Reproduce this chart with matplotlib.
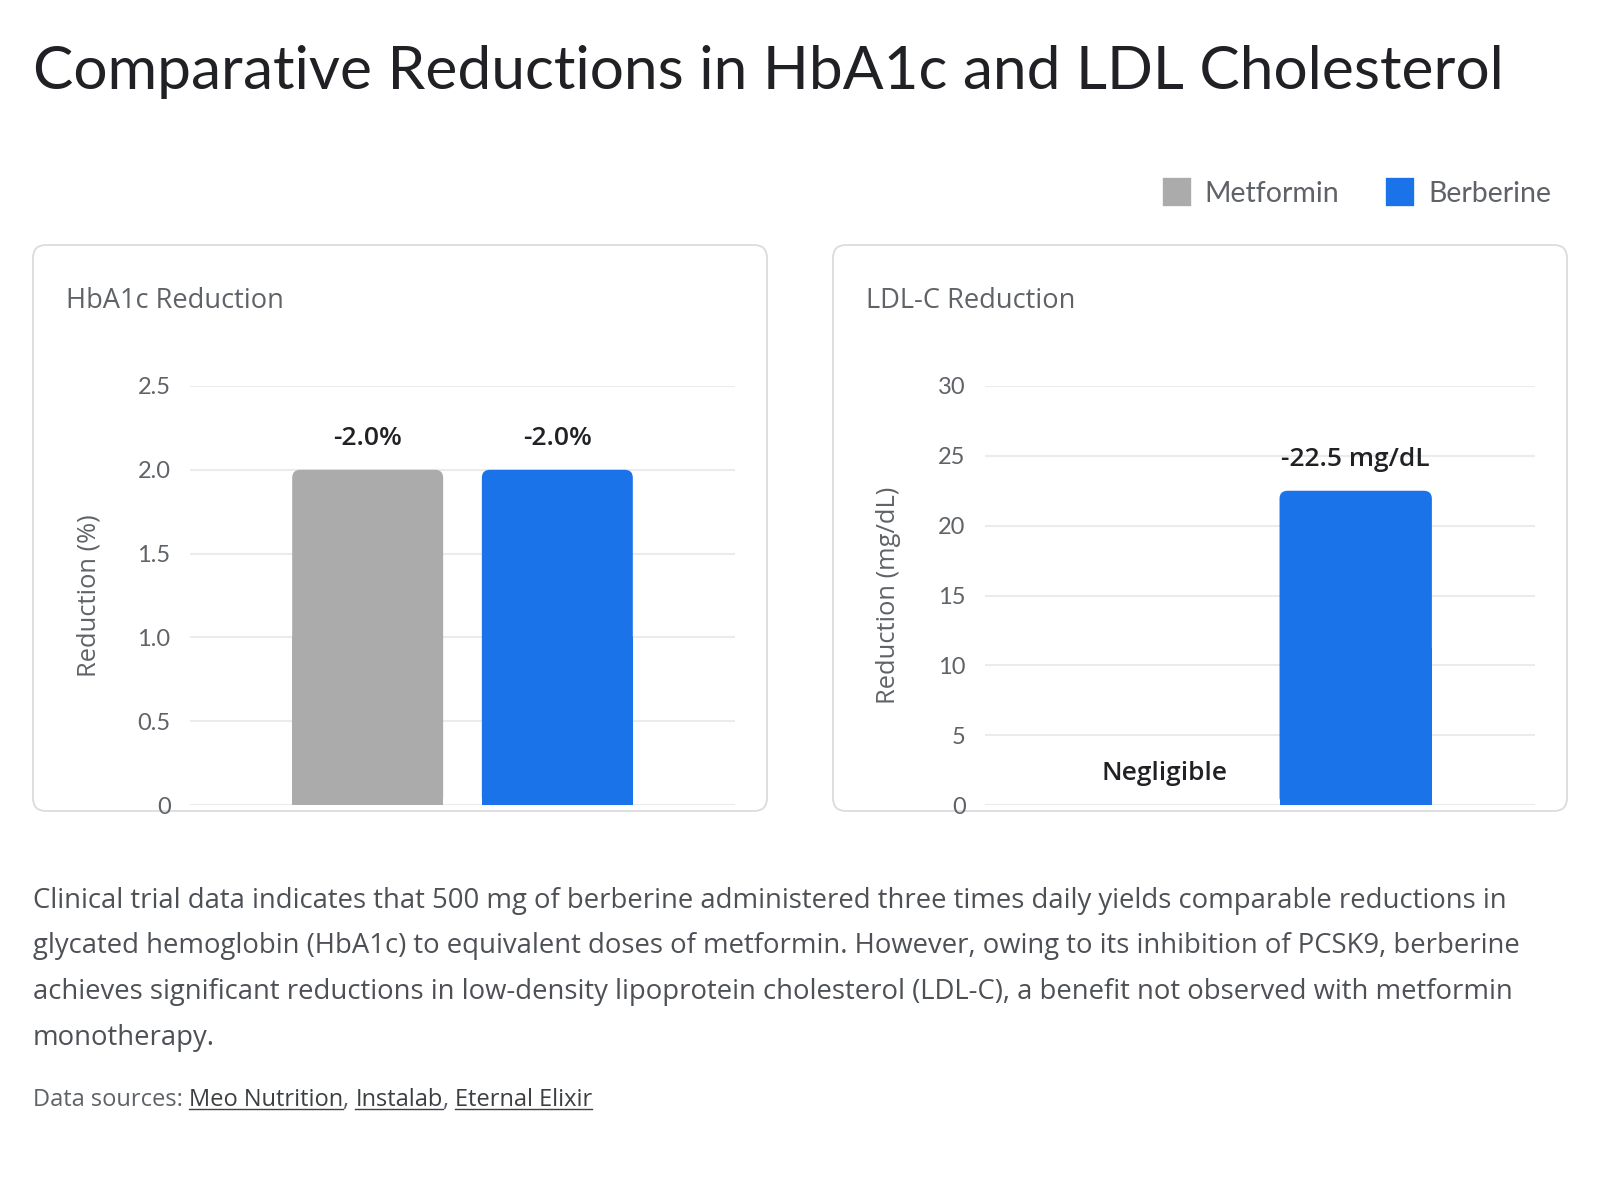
import matplotlib
matplotlib.use("Agg")
import matplotlib.pyplot as plt
from matplotlib.patches import FancyBboxPatch, Patch
from matplotlib.lines import Line2D

plt.rcParams['font.family'] = ['Open Sans', 'DejaVu Sans']
TITLE_FONT = ['Lato', 'DejaVu Sans']

# ---- data ----
title = "Comparative Reductions in HbA1c and LDL Cholesterol"
drugs = ["Metformin", "Berberine"]
colors = ["#ababab", "#1a73e8"]

hba1c_title = "HbA1c Reduction"
hba1c_ylabel = "Reduction (%)"
hba1c_values = [2.0, 2.0]
hba1c_labels = ["-2.0%", "-2.0%"]
hba1c_ticks = [0, 0.5, 1.0, 1.5, 2.0, 2.5]
hba1c_ticklabels = ["0", "0.5", "1.0", "1.5", "2.0", "2.5"]

ldl_title = "LDL-C Reduction"
ldl_ylabel = "Reduction (mg/dL)"
ldl_values = [0.0, 22.5]
ldl_labels = ["Negligible", "-22.5 mg/dL"]
ldl_ticks = [0, 5, 10, 15, 20, 25, 30]
ldl_ticklabels = ["0", "5", "10", "15", "20", "25", "30"]

body_lines = [
    "Clinical trial data indicates that 500 mg of berberine administered three times daily yields comparable reductions in",
    "glycated hemoglobin (HbA1c) to equivalent doses of metformin. However, owing to its inhibition of PCSK9, berberine",
    "achieves significant reductions in low-density lipoprotein cholesterol (LDL-C), a benefit not observed with metformin",
    "monotherapy.",
]
source_prefix = "Data sources: "
sources = ["Meo Nutrition", "Instalab", "Eternal Elixir"]

W, H = 1600, 1200
fig = plt.figure(figsize=(16, 12), dpi=100)


def fx(px):
    return px / W


def fy(py):
    return 1 - py / H


fig.text(fx(33), fy(89), title, fontsize=43.5, color="#202124", va="baseline",
         family=TITLE_FONT)

# panels (cards)
for left in (33, 833):
    card = FancyBboxPatch((left / 100, (H - 811) / 100), 7.34, 5.66,
                          boxstyle="round,pad=0,rounding_size=0.13",
                          transform=fig.dpi_scale_trans, facecolor="white",
                          edgecolor="#dadce0", linewidth=1.3, zorder=-1)
    fig.add_artist(card)


def draw_panel(ax_px, title_x, ptitle, ylabel, values, labels, ticks, ticklabels, ylabel_x):
    x0, x1 = ax_px
    ax = fig.add_axes([fx(x0), fy(805), fx(x1 - x0), (805 - 386) / H])
    ax.set_facecolor("none")
    pos = [-0.174, 0.174]
    width = 0.277
    bars = ax.bar(pos, values, width=width, color=colors, zorder=3)
    ax.set_xlim(-0.5, 0.5)
    ax.set_ylim(ticks[0], ticks[-1])
    ax.set_yticks(ticks)
    ax.set_yticklabels(ticklabels, family=TITLE_FONT)
    ax.set_xticks([])
    ax.tick_params(axis="y", length=0, pad=14, labelsize=17, labelcolor="#5f6368")
    ax.grid(axis="y", color="#ebebeb", linewidth=1.5, zorder=0)
    for s in ax.spines.values():
        s.set_visible(False)
    ax.set_ylabel(ylabel, fontsize=18.4, color="#5f6368", va="center")
    ax.yaxis.set_label_coords(ylabel_x, 0.5)

    # rounded bar tops
    px_w = x1 - x0
    x_per_px = 1.0 / px_w
    y_per_px = (ticks[-1] - ticks[0]) / (805 - 386)
    r = 8 * x_per_px
    for b, c in zip(bars, colors):
        h = b.get_height()
        if h <= 0:
            continue
        top = FancyBboxPatch((b.get_x(), 0), b.get_width(), h,
                             boxstyle=f"round,pad=0,rounding_size={r}",
                             mutation_aspect=y_per_px / x_per_px,
                             facecolor=c, edgecolor="none", zorder=3)
        ax.add_patch(top)
        b.set_height(h / 2)

    for b, lab, v in zip(bars, labels, values):
        ax.annotate(lab, (b.get_x() + b.get_width() / 2, v), xytext=(0, 22.5),
                    textcoords="offset points", ha="center", va="center",
                    fontsize=19, fontweight="semibold", color="#202124", zorder=4)

    fig.text(fx(title_x), fy(308), ptitle, fontsize=19.6, color="#5f6368", va="baseline")
    return ax


draw_panel((190, 735), 66, hba1c_title, hba1c_ylabel, hba1c_values, hba1c_labels,
           hba1c_ticks, hba1c_ticklabels, -0.185)
draw_panel((985, 1535), 866, ldl_title, ldl_ylabel, ldl_values, ldl_labels,
           ldl_ticks, ldl_ticklabels, -0.175)

# legend
handles = [Patch(facecolor=c, edgecolor=c, linewidth=6, joinstyle="round", label=d)
           for c, d in zip(colors, drugs)]
fig.legend(handles=handles, loc="center right", bbox_to_anchor=(fx(1551), fy(194)),
           ncol=2, frameon=False, labelcolor="#5f6368",
           prop={'family': TITLE_FONT, 'size': 20.5},
           handlelength=0.7, handleheight=0.7, handletextpad=0.62,
           columnspacing=1.8, borderpad=0, borderaxespad=0)

# body text
for i, line in enumerate(body_lines):
    fig.text(fx(33), fy(901 + i * 45.5), line, fontsize=19.8, color="#4d5156", va="center")

# sources line with underlined links
renderer = fig.canvas.get_renderer()
x = 33
ybase = 1106
pieces = [(source_prefix, False)]
for i, s in enumerate(sources):
    pieces.append((s, True))
    if i < len(sources) - 1:
        pieces.append((", ", False))
for txt, link in pieces:
    t = fig.text(fx(x), fy(ybase), txt, fontsize=17, va="baseline",
                 color="#3c4043" if link else "#5f6368")
    bb = t.get_window_extent(renderer)
    if link:
        fig.add_artist(Line2D([fx(x), fx(x + bb.width)], [fy(ybase + 3), fy(ybase + 3)],
                              transform=fig.transFigure, color="#3c4043", linewidth=1))
    x += bb.width

fig.savefig("out.png", dpi=100, facecolor="white")
